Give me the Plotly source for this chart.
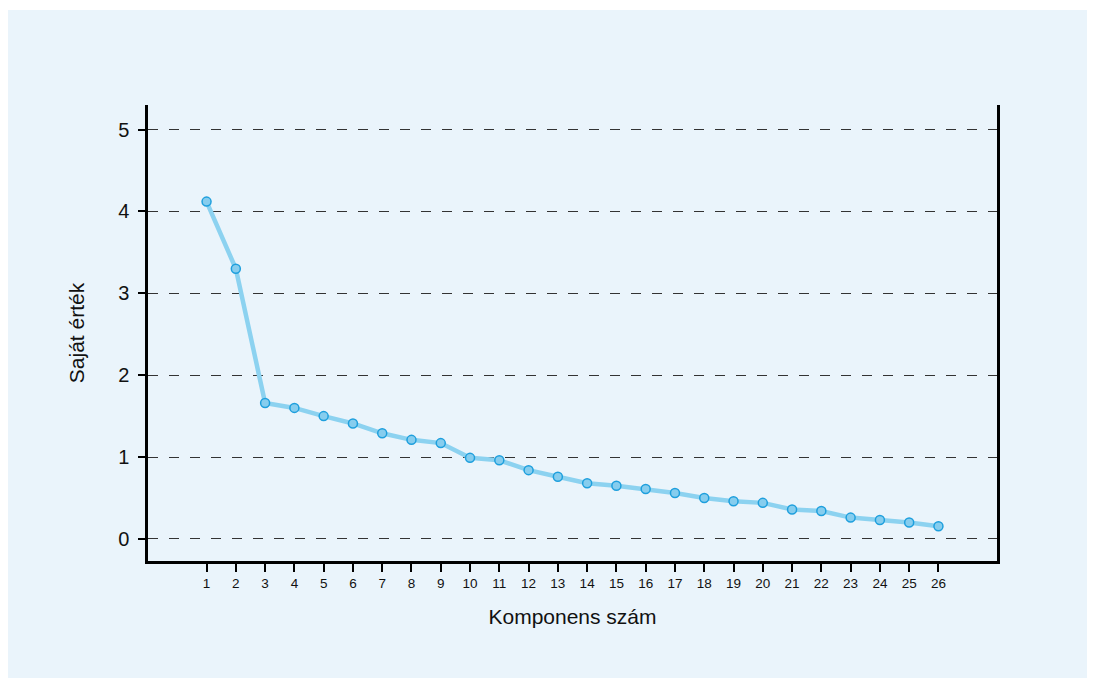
import plotly.graph_objects as go

components = list(range(1, 27))
eigenvalues = [4.12, 3.30, 1.66, 1.60, 1.50, 1.41, 1.29, 1.21, 1.17, 0.99,
               0.96, 0.84, 0.76, 0.68, 0.65, 0.61, 0.56, 0.50, 0.46, 0.44,
               0.36, 0.34, 0.26, 0.23, 0.20, 0.155]
y_ticks = [0, 1, 2, 3, 4, 5]

OFF = 8  # default page body margin
W, H = 1095 - OFF, 685 - OFF
L, R, T, B = 140, 98, 97, 124
pw, ph = W - L - R, H - T - B

fig = go.Figure()
fig.add_trace(go.Scatter(
    x=components, y=eigenvalues, mode="lines+markers",
    line=dict(color="#8CD2F0", width=4.5),
    marker=dict(size=9, color="#86CDEE", line=dict(color="#1E9FDD", width=1.5)),
    showlegend=False, hoverinfo="x+y"))

fig.add_shape(type="rect", xref="paper", yref="paper", layer="below",
              x0=(0 - L) / pw, x1=(1082 - L) / pw,
              y0=(H - B - 670) / ph, y1=(H - B - 2) / ph,
              fillcolor="#EAF4FB", line=dict(width=0))

fig.update_layout(
    width=W, height=H,
    margin=dict(l=L, r=R, t=T, b=B, pad=0),
    paper_bgcolor="white", plot_bgcolor="rgba(0,0,0,0)",
    font=dict(family="Liberation Sans, Arial, sans-serif", color="#111111"),
    xaxis=dict(range=[-1, 28], tickvals=components, ticktext=[str(c) for c in components],
               showgrid=False, zeroline=False, showline=True, linecolor="black", linewidth=2.5,
               ticks="outside", ticklen=8, tickwidth=2, tickcolor="black",
               tickfont=dict(size=13.5), title=dict(text="Komponens szám", font=dict(size=21), standoff=20)),
    yaxis=dict(range=[-0.27, 5.3], tickvals=y_ticks, ticktext=[str(v) for v in y_ticks],
               showgrid=True, gridcolor="#333333", gridwidth=1, griddash="10px,11px",
               zeroline=False, showline=True, mirror=True, linecolor="black", linewidth=2.5,
               ticks="outside", ticklen=7, tickwidth=2, tickcolor="black", ticklabelstandoff=5,
               tickfont=dict(size=20), title=dict(text="Saját érték", font=dict(size=21), standoff=28)),
)

fig.write_html("out.html")
